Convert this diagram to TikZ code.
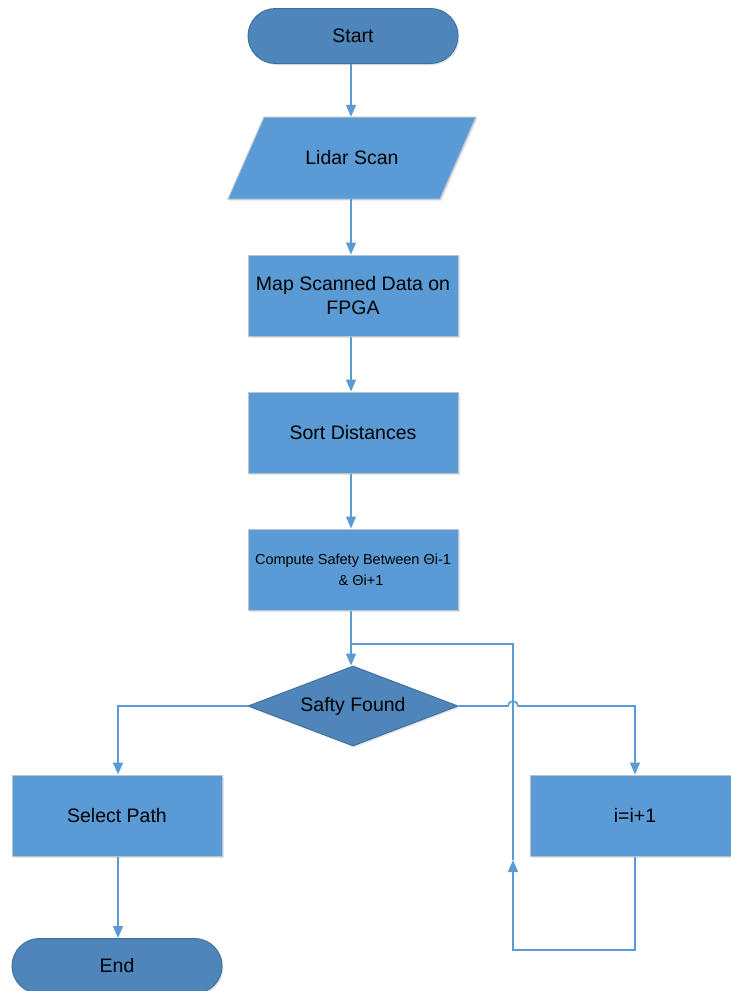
\documentclass[tikz,border=0pt]{standalone}
\usepackage{fontspec}
\setmainfont{Liberation Sans}
\usetikzlibrary{shapes.geometric,arrows.meta,shadows}
\definecolor{boxblue}{HTML}{5B9BD5}
\definecolor{termblue}{HTML}{4E86BC}
\definecolor{termedge}{HTML}{41719C}
\definecolor{boxedge}{HTML}{B8C4D0}
\definecolor{linkblue}{HTML}{5B9BD5}
\begin{document}
\begin{tikzpicture}[x=1pt,y=-1pt,
  every node/.style={font=\fontsize{19.5}{24}\selectfont, text=black},
  shade/.style={drop shadow={shadow xshift=1.5pt,shadow yshift=-1.5pt,opacity=0.18,fill=black!60}},
  procbox/.style={rectangle, fill=boxblue, draw=boxedge, line width=1pt, minimum width=210pt, minimum height=81pt, inner sep=0pt, align=center, shade},
  termbox/.style={rectangle, rounded corners=27.5pt, fill=termblue, draw=termedge, line width=1pt, minimum width=210pt, minimum height=55pt, inner sep=0pt, shade},
  decbox/.style={diamond, aspect=2.625, fill=termblue, draw=termedge, line width=1pt, minimum width=210pt, minimum height=80pt, inner sep=0pt, shade},
  link/.style={draw=linkblue, line width=1.6pt, -{Triangle[length=12pt,width=10pt]}},
  plainlink/.style={draw=linkblue, line width=1.6pt}]
\useasboundingbox (0,0) rectangle (731,991);

% Start
\node[termbox] (start) at (353,36) {Start};

% Lidar parallelogram
\filldraw[fill=boxblue, draw=boxedge, line width=1pt, shade] (228,199) -- (264,117) -- (476,117) -- (440,199) -- cycle;
\node[minimum width=212pt, minimum height=82pt, inner sep=0pt] (lidar) at (352,158) {Lidar Scan};

% Process boxes
\node[procbox] (map) at (353,295.5) {Map Scanned Data on\\FPGA};
\node[procbox] (sort) at (353,432.5) {Sort Distances};
\node[procbox, font=\fontsize{14.5}{21}\selectfont] (compute) at (353,569.5) {Compute Safety Between Θi-1\\\hspace*{0pt}\ \ \ \ \& Θi+1};

% Decision
\node[decbox] (dec) at (353,706) {Safty Found};

% Branches
\node[procbox] (sel) at (117,815.5) {Select Path};
\node[procbox] (inc) at (635,815.5) {i=i+1};
\node[termbox] (end) at (117,966) {End};

% Coordinates
\coordinate (merge) at (351,644);
\coordinate (loopup) at (513,860);
\coordinate (hopL) at (508,706);
\coordinate (loopcorner) at (635,950);

% Connectors
\draw[link] (start.south -| 351,0) -- (lidar.north -| 351,0);
\draw[link] (lidar.south -| 351,0) -- (map.north -| 351,0);
\draw[link] (map.south -| 351,0) -- (sort.north -| 351,0);
\draw[link] (sort.south -| 351,0) -- (compute.north -| 351,0);
\draw[link] (compute.south -| 351,0) -- (dec.north -| 351,0);
\draw[link] (dec.west) -| (sel.north -| 118,0);
\draw[link] (dec.east) -- (hopL) arc[start angle=180, end angle=0, radius=5pt] -| (inc.north);
\draw[link] (inc.south) -- (loopcorner) -| (loopup);
\draw[plainlink] (loopup) |- (merge);
\draw[link] (sel.south -| 118,0) -- (end.north -| 118,0);
\end{tikzpicture}
\end{document}
